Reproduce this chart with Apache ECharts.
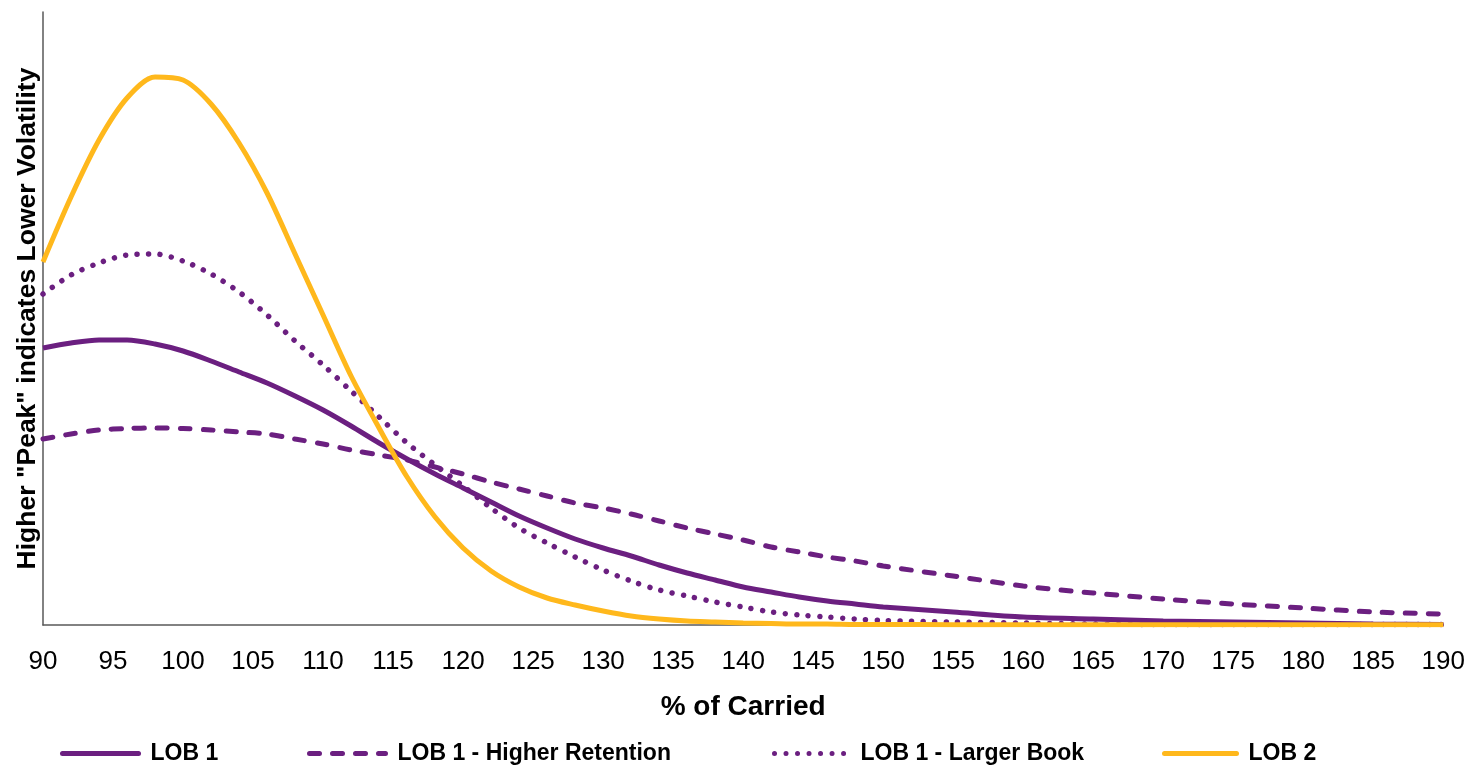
<!DOCTYPE html>
<html>
<head>
<meta charset="utf-8">
<script src="https://cdn.jsdelivr.net/npm/echarts@6/dist/echarts.min.js"></script>
<style>
  html, body { margin: 0; padding: 0; background: #fff; }
  #chart { width: 1468px; height: 766px; }
</style>
</head>
<body>
<div id="chart"></div>
<script>
// % of Carried (x values)
const xs = [90, 92, 94, 96, 98, 100, 102, 104, 106, 108, 110, 112, 114, 116, 118, 120,
            122, 124, 126, 128, 130, 132, 134, 136, 138, 140, 142, 144, 146, 148, 150,
            155, 160, 165, 170, 175, 180, 185, 190];
const xTicks = [90, 95, 100, 105, 110, 115, 120, 125, 130, 135, 140, 145, 150, 155, 160, 165, 170, 175, 180, 185, 190];
const seriesNames = ['LOB 1', 'LOB 1 - Higher Retention', 'LOB 1 - Larger Book', 'LOB 2'];

const lob1 = [277, 282, 285, 285, 281, 274, 264, 253, 242, 229, 215, 199, 182, 166, 151, 137,
              123, 109, 97, 86, 77, 69, 60, 52, 45, 38, 33, 28, 24, 21, 18,
              13, 8, 6, 4, 3, 2, 1, 0.5];
const lob1HigherRetention = [186, 191, 195, 196.5, 197, 196.5, 195, 193, 191, 186, 181, 175, 170, 165, 158, 151,
              143, 136, 129, 122, 117, 111, 104, 97, 91, 85, 78, 73, 68, 64, 59,
              49, 39, 32, 26, 21, 17, 13, 11];
const lob1LargerBook = [331, 350, 362, 370, 371, 364, 351, 333, 310, 284, 260, 234, 208, 182, 160, 139,
              117, 97, 82, 68, 55, 44, 35, 29, 23, 18, 13, 10, 8, 6, 4.5,
              3, 2, 1, 0.5, 0.5, 0.5, 0.5, 0.5];
const lob2 = [363, 428, 485, 527, 548, 545, 521, 482, 432, 371, 310, 249, 197, 148, 108, 77,
              54, 38, 27, 20, 14, 9, 6, 4, 3, 2, 1.5, 1, 1, 0.5, 0.5,
              0.3, 0.3, 0.3, 0.3, 0.3, 0.3, 0.3, 0.3];

const PURPLE = '#6B1F80';
const ORANGE = '#FFB81C';
const pairs = arr => xs.map((x, i) => [x, arr[i]]);

const legendLefts = [55, 302, 767, 1157];
const legendWidths = [76, 76, 74, 72];
const legends = seriesNames.map((n, i) => ({
  data: [n],
  left: legendLefts[i],
  top: 737,
  itemWidth: legendWidths[i],
  itemHeight: 14,
  itemStyle: { opacity: 0 },
  lineStyle: { width: 5, cap: 'round' },
  textStyle: { fontFamily: 'Liberation Sans, Arial', fontSize: 23, fontWeight: 'bold', color: '#000', padding: [0, 0, 0, 7] }
}));

const chart = echarts.init(document.getElementById('chart'), null, { renderer: 'canvas' });
chart.setOption({
  animation: false,
  backgroundColor: '#ffffff',
  grid: { left: 43, right: 23, top: 12, bottom: 141, containLabel: false },
  xAxis: {
    type: 'value',
    min: 90, max: 190, interval: 5,
    name: '% of Carried',
    nameLocation: 'middle',
    nameGap: 68,
    nameTextStyle: { fontFamily: 'Liberation Sans, Arial', fontSize: 28, fontWeight: 'bold', color: '#000' },
    axisLine: { show: true, lineStyle: { color: '#595959', width: 1.5 } },
    axisTick: { show: false },
    splitLine: { show: false },
    axisLabel: {
      margin: 24,
      fontFamily: 'Liberation Sans, Arial', fontSize: 26, color: '#000',
      formatter: v => (xTicks.indexOf(v) >= 0 ? String(v) : '')
    }
  },
  yAxis: {
    type: 'value',
    min: 0, max: 613,
    name: 'Higher "Peak" indicates Lower Volatility',
    nameLocation: 'middle',
    nameGap: 2,
    nameTextStyle: { fontFamily: 'Liberation Sans, Arial', fontSize: 26.5, fontWeight: 'bold', color: '#000' },
    axisLine: { show: true, lineStyle: { color: '#595959', width: 1.5 } },
    axisTick: { show: false },
    axisLabel: { show: false },
    splitLine: { show: false }
  },
  legend: legends,
  series: [
    {
      name: 'LOB 1 - Higher Retention', type: 'line', data: pairs(lob1HigherRetention),
      showSymbol: false, symbol: 'none', smooth: 0.3, z: 2,
      lineStyle: { color: PURPLE, width: 5, type: [10, 13], cap: 'round' },
      itemStyle: { color: PURPLE }
    },
    {
      name: 'LOB 1 - Larger Book', type: 'line', data: pairs(lob1LargerBook),
      showSymbol: false, symbol: 'none', smooth: 0.3, z: 3,
      lineStyle: { color: PURPLE, width: 5.5, type: [0.01, 11.5], cap: 'round' },
      itemStyle: { color: PURPLE }
    },
    {
      name: 'LOB 1', type: 'line', data: pairs(lob1),
      showSymbol: false, symbol: 'none', smooth: 0.3, z: 4,
      lineStyle: { color: PURPLE, width: 5 },
      itemStyle: { color: PURPLE }
    },
    {
      name: 'LOB 2', type: 'line', data: pairs(lob2),
      showSymbol: false, symbol: 'none', smooth: 0.3, z: 5,
      lineStyle: { color: ORANGE, width: 5 },
      itemStyle: { color: ORANGE }
    }
  ]
});
</script>
</body>
</html>
